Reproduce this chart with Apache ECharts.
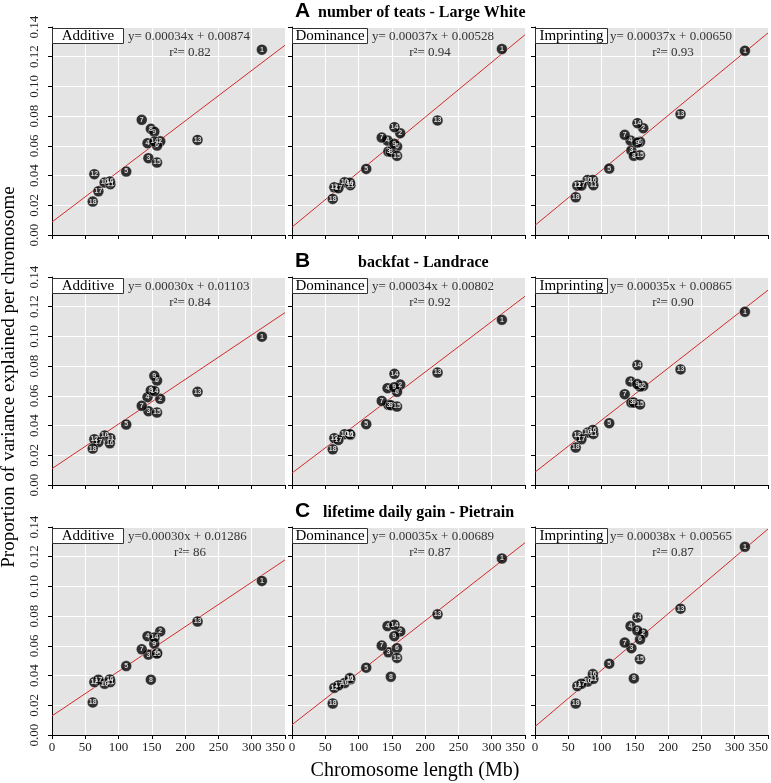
<!DOCTYPE html>
<html>
<head>
<meta charset="utf-8">
<script src="https://cdn.jsdelivr.net/npm/echarts@6/dist/echarts.min.js"></script>
<style>
  html, body { margin: 0; padding: 0; background: #fff; }
  #main { width: 771px; height: 783px; }
</style>
</head>
<body>
<div id="main"></div>
<script>
// chromosome numbers and their lengths (Mb)
var chrom = ['1','2','3','4','5','6','7','8','9','10','11','12','13','14','15','16','17','18'];
var lengthMb = [315.3, 162.6, 144.8, 143.5, 111.5, 157.8, 134.8, 148.5, 153.7, 79.1, 87.7, 63.6, 218.6, 153.9, 157.7, 86.9, 69.7, 61.2];

var traits = ['number of teats - Large White', 'backfat - Landrace', 'lifetime daily gain - Pietrain'];
var traitLetters = ['A', 'B', 'C'];
var models = ['Additive', 'Dominance', 'Imprinting'];

// proportion of variance per chromosome, order 1..18
var teatsAdd = [0.1247, 0.0631, 0.0517, 0.0618, 0.0427, 0.0602, 0.0775, 0.0715, 0.0695, 0.0353, 0.0342, 0.0409, 0.0640, 0.0629, 0.0488, 0.0360, 0.0294, 0.0225];
var teatsDom = [0.1252, 0.0685, 0.0562, 0.0636, 0.0445, 0.0596, 0.0656, 0.0560, 0.0614, 0.0355, 0.0335, 0.0321, 0.0771, 0.0726, 0.0533, 0.0352, 0.0315, 0.0243];
var teatsImp = [0.1240, 0.0719, 0.0569, 0.0636, 0.0447, 0.0627, 0.0674, 0.0533, 0.0622, 0.0371, 0.0335, 0.0333, 0.0813, 0.0753, 0.0537, 0.0371, 0.0333, 0.0254];
var backfatAdd = [0.0998, 0.0580, 0.0497, 0.0591, 0.0407, 0.0703, 0.0533, 0.0636, 0.0735, 0.0333, 0.0315, 0.0308, 0.0627, 0.0632, 0.0488, 0.0281, 0.0288, 0.0245];
var backfatDom = [0.1112, 0.0676, 0.0540, 0.0652, 0.0409, 0.0627, 0.0566, 0.0537, 0.0658, 0.0342, 0.0338, 0.0315, 0.0757, 0.0748, 0.0528, 0.0342, 0.0303, 0.0240];
var backfatImp = [0.1166, 0.0667, 0.0555, 0.0697, 0.0416, 0.0663, 0.0611, 0.0555, 0.0679, 0.0353, 0.0344, 0.0335, 0.0778, 0.0807, 0.0542, 0.0371, 0.0308, 0.0252];
var gainAdd = [0.1037, 0.0697, 0.0541, 0.0665, 0.0464, 0.0555, 0.0577, 0.0372, 0.0615, 0.0345, 0.0356, 0.0356, 0.0764, 0.0656, 0.0548, 0.0374, 0.0372, 0.0219];
var gainDom = [0.1188, 0.0697, 0.0557, 0.0733, 0.0453, 0.0584, 0.0602, 0.0392, 0.0665, 0.0350, 0.0375, 0.0318, 0.0812, 0.0742, 0.0519, 0.0383, 0.0334, 0.0212];
var gainImp = [0.1267, 0.0683, 0.0584, 0.0733, 0.0480, 0.0643, 0.0622, 0.0381, 0.0703, 0.0360, 0.0378, 0.0329, 0.0850, 0.0791, 0.0510, 0.0410, 0.0345, 0.0212];

var values = [[teatsAdd, teatsDom, teatsImp], [backfatAdd, backfatDom, backfatImp], [gainAdd, gainDom, gainImp]];

// regression lines
var slopes = [[0.00034, 0.00037, 0.00037], [0.00030, 0.00034, 0.00035], [0.00030, 0.00035, 0.00038]];
var intercepts = [[0.00874, 0.00528, 0.00650], [0.01103, 0.00802, 0.00865], [0.01286, 0.00689, 0.00565]];
var eqText = [
    ['y= 0.00034x + 0.00874', 'y= 0.00037x + 0.00528', 'y= 0.00037x + 0.00650'],
    ['y= 0.00030x + 0.01103', 'y= 0.00034x + 0.00802', 'y= 0.00035x + 0.00865'],
    ['y=0.00030x + 0.01286', 'y= 0.00035x + 0.00689', 'y= 0.00038x + 0.00565']
];
var r2Text = [['0.82', '0.94', '0.93'], ['0.84', '0.92', '0.90'], ['86', '0.87', '0.87']];

var xTicks = [0, 50, 100, 150, 200, 250, 300, 350];
var yTicks = [0, 0.02, 0.04, 0.06, 0.08, 0.10, 0.12, 0.14];

var serif = '"Liberation Serif", "DejaVu Serif", serif';
var colLeft = [52, 292, 535];
var rowTop = [27, 277, 527];
var plotW = 233, plotH = 208;
var boxW = [71, 75, 72];
var eqLeft = [76, 80, 75];
var traitLeft = [318, 358, 323];

var grids = [], xAxes = [], yAxes = [], series = [], graphics = [];

for (var r = 0; r < 3; r++) {
    for (var c = 0; c < 3; c++) {
        var k = r * 3 + c;
        grids.push({
            left: colLeft[c], top: rowTop[r], width: plotW, height: plotH,
            show: true, backgroundColor: '#e4e4e4', borderWidth: 0
        });
        xAxes.push({
            gridIndex: k, type: 'value', min: xTicks[0], max: xTicks[xTicks.length - 1], interval: 50,
            axisLine: { onZero: false, lineStyle: { color: '#000', width: 1 } },
            axisTick: { show: true, inside: false, length: 4, lineStyle: { color: '#000' } },
            axisLabel: { show: r === 2, fontFamily: serif, fontSize: 13, color: '#222', margin: 6, alignMaxLabel: 'right' },
            splitLine: { show: true, lineStyle: { color: '#fff', width: 1 } }
        });
        yAxes.push({
            gridIndex: k, type: 'value', min: yTicks[0], max: yTicks[yTicks.length - 1], interval: 0.02,
            axisLine: { show: true, lineStyle: { color: '#000', width: 1 } },
            axisTick: { show: true, inside: false, length: 4, lineStyle: { color: '#000' } },
            axisLabel: {
                show: c === 0, rotate: 90, fontFamily: serif, fontSize: 13, color: '#222', margin: 11,
                formatter: function (v) { return v.toFixed(2); }
            },
            splitLine: { show: true, lineStyle: { color: '#fff', width: 1 } }
        });
        series.push({
            type: 'line', xAxisIndex: k, yAxisIndex: k, silent: true,
            symbol: 'none', lineStyle: { color: '#d42a2a', width: 1 },
            data: [[xTicks[0], intercepts[r][c] + slopes[r][c] * xTicks[0]],
                   [xTicks[xTicks.length - 1], intercepts[r][c] + slopes[r][c] * xTicks[xTicks.length - 1]]],
            z: 2
        });
        series.push({
            type: 'scatter', xAxisIndex: k, yAxisIndex: k,
            symbolSize: 11,
            itemStyle: { color: '#000', borderColor: '#fff', borderWidth: 0.5 },
            label: {
                show: true, position: 'inside', color: '#fff', fontSize: 7, fontWeight: 'bold',
                fontFamily: '"Liberation Sans", Arial, sans-serif',
                formatter: function (p) { return p.data[2]; }
            },
            data: lengthMb.map(function (x, i) { return [x, values[r][c][i], chrom[i]]; }),
            z: 3
        });
        // model label box
        graphics.push({
            type: 'rect', z: 10,
            shape: { x: colLeft[c] + 0.5, y: rowTop[r] + 1.5, width: boxW[c], height: 15 },
            style: { fill: '#fff', stroke: '#333', lineWidth: 1 }
        });
        graphics.push({
            type: 'text', z: 11, x: colLeft[c] + 0.5 + boxW[c] / 2, y: rowTop[r] + 9.5,
            style: { text: models[c], font: '15px ' + serif, fill: '#000', textAlign: 'center', textVerticalAlign: 'middle' }
        });
        // equation
        graphics.push({
            type: 'text', z: 11, x: colLeft[c] + eqLeft[c], y: rowTop[r] + 10,
            style: { text: eqText[r][c], font: '13px ' + serif, fill: '#333', textVerticalAlign: 'middle' }
        });
        graphics.push({
            type: 'text', z: 11, x: colLeft[c] + 138, y: rowTop[r] + 26,
            style: { text: 'r\u00b2= ' + r2Text[r][c], font: '13px ' + serif, fill: '#333', textAlign: 'center', textVerticalAlign: 'middle' }
        });
    }
    // panel letter and trait title
    graphics.push({
        type: 'text', x: 295, y: rowTop[r] - 16,
        style: { text: traitLetters[r], font: 'bold 21px "Liberation Sans", Arial, sans-serif', fill: '#000', textVerticalAlign: 'middle' }
    });
    graphics.push({
        type: 'text', x: traitLeft[r], y: rowTop[r] - 14,
        style: { text: traits[r], font: 'bold 16px ' + serif, fill: '#000', textVerticalAlign: 'middle' }
    });
}

graphics.push({
    type: 'text', x: 9, y: 377, rotation: Math.PI / 2,
    style: { text: 'Proportion of variance explained per chromosome', font: '19px ' + serif, fill: '#000', textAlign: 'center', textVerticalAlign: 'middle' }
});
graphics.push({
    type: 'text', x: 415, y: 771,
    style: { text: 'Chromosome length (Mb)', font: '20px ' + serif, fill: '#000', textAlign: 'center', textVerticalAlign: 'middle' }
});

var myChart = echarts.init(document.getElementById('main'));
myChart.setOption({
    animation: false,
    grid: grids,
    xAxis: xAxes,
    yAxis: yAxes,
    series: series,
    graphic: graphics
});
</script>
</body>
</html>
